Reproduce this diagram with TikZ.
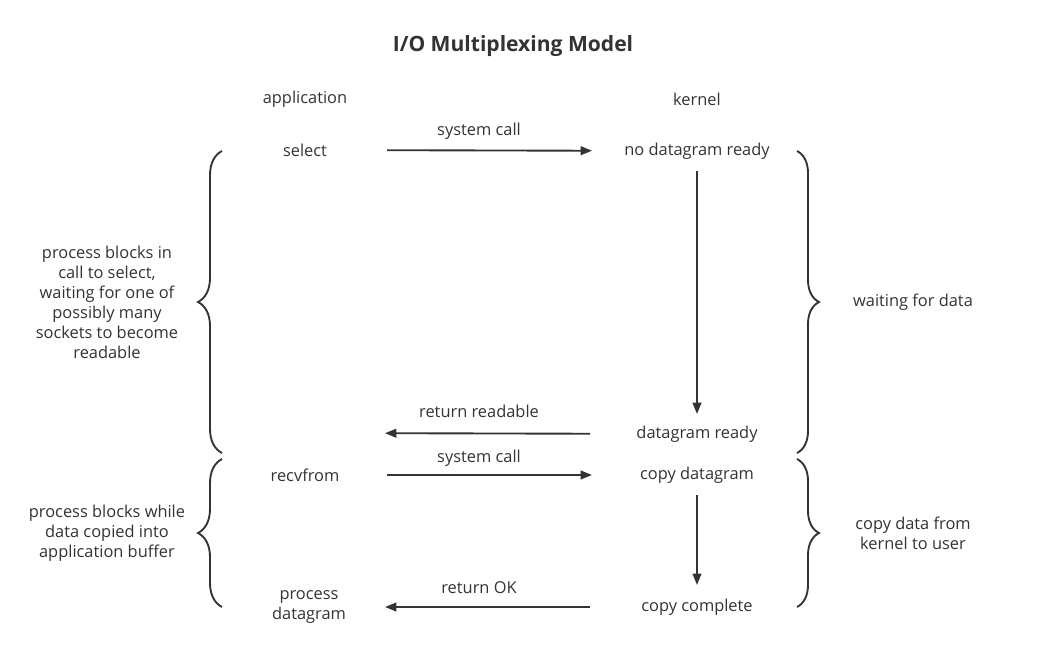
\documentclass[tikz,border=0pt]{standalone}
\usepackage{fontspec}
\setmainfont{Open Sans}
\usetikzlibrary{arrows.meta, decorations.pathreplacing}
\definecolor{ink}{HTML}{333333}
\tikzstyle{label} = [text=ink, font=\fontsize{12.3}{15}\selectfont, inner sep=0pt, align=center]
\tikzstyle{flow} = [draw=ink, line width=1.4pt, -{Triangle[length=8.5pt, width=6.5pt]}]
\tikzstyle{bracket} = [draw=ink, line width=1.4pt, decorate, decoration={brace, amplitude=18pt}]

\begin{document}
\begin{tikzpicture}[x=0.75pt, y=-0.75pt]
      \useasboundingbox (0,0) rectangle (1038,663);
      \node (title) [label, font=\fontsize{15.8}{18}\selectfont\bfseries] at (513, 46) {I/O Multiplexing Model};
      \node (app) [label] at (305, 99) {application};
      \node (kernel) [label] at (697, 99) {kernel};

      \node (select) [label] at (305, 150) {select};
      \node (nodg) [label] at (697, 151) {no datagram ready};
      \node (dgready) [label] at (697, 434) {datagram ready};
      \coordinate (appready) at (305, 433);
      \node (recvfrom) [label] at (305, 475) {recvfrom};
      \node (copydg) [label] at (697, 475) {copy datagram};
      \node (copydone) [label] at (697, 607) {copy complete};
      \node (procdg) [label] at (309, 607) {process\\datagram};

      \node (syscall1) [label] at (479, 131) {system call};
      \node (retread) [label] at (479, 411) {return readable};
      \node (syscall2) [label] at (479, 458) {system call};
      \node (retok) [label] at (479, 588) {return OK};

      \node (blockselect) [label] at (107, 302) {process blocks in\\call to select,\\waiting for one of\\possibly many\\sockets to become\\readable};
      \node (blockcopy) [label] at (107, 533) {process blocks while\\data copied into\\application buffer};
      \node (waitdata) [label] at (913, 302) {waiting for data};
      \node (copydata) [label] at (913, 533) {copy data from\\kernel to user};

      \draw [flow, shorten <=61.5pt, shorten >=78.75pt] (select.center) -- (nodg.center);
      \draw [flow, shorten <=15pt, shorten >=15pt] (nodg.center) -- (dgready.center);
      \draw [flow, shorten <=80.25pt, shorten >=60pt] (dgready.center) -- (appready);
      \draw [flow, shorten <=61.5pt, shorten >=78.75pt] (recvfrom.center) -- (copydg.center);
      \draw [flow, shorten <=15pt, shorten >=16.5pt] (copydg.center) -- (copydone.center);
      \draw [flow, shorten <=80.25pt, shorten >=57pt] (copydone.center) -- (procdg.center);

      \draw [bracket] (222, 453) -- (222, 151);
      \draw [bracket] (222, 607) -- (222, 459);
      \draw [bracket, decoration={amplitude=16.5pt}] (797, 151) -- (797, 453);
      \draw [bracket, decoration={amplitude=16.5pt}] (797, 459) -- (797, 607);
    \end{tikzpicture}
\end{document}
